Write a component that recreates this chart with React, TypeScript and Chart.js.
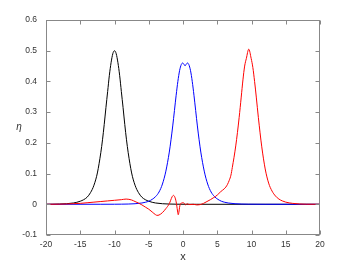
import { useEffect, useRef } from "react";
import { Chart, registerables } from "chart.js";
Chart.register(...registerables);

const blackX = [-20, -19, -18, -17, -16, -15.5, -15, -14.5, -14, -13.5, -13, -12.5, -12, -11.75, -11.5, -11.25, -11, -10.75, -10.5, -10.25, -10, -9.75, -9.5, -9.25, -9, -8.75, -8.5, -8.25, -8, -7.5, -7, -6.5, -6, -5.5, -5, -4.5, -4, -3, -2, -1, 0, 2, 20];
const blackY = [0, 0.0003, 0.0008, 0.0018, 0.0042, 0.0065, 0.01, 0.015, 0.023, 0.038, 0.062, 0.102, 0.168, 0.21, 0.26, 0.315, 0.367, 0.42, 0.461, 0.49, 0.5, 0.49, 0.461, 0.42, 0.367, 0.315, 0.26, 0.21, 0.168, 0.102, 0.062, 0.038, 0.023, 0.015, 0.01, 0.0065, 0.0042, 0.0018, 0.0008, 0.0003, 0.0001, 0, 0];

const blueX = [-20, -12, -10, -9, -8, -7, -6, -5.5, -5, -4.5, -4, -3.5, -3, -2.5, -2, -1.75, -1.5, -1.25, -1, -0.75, -0.5, -0.25, -0.05, 0.1, 0.3, 0.5, 0.65, 0.85, 1.1, 1.35, 1.6, 1.85, 2.1, 2.35, 2.6, 3.1, 3.6, 4.1, 4.6, 5.1, 5.6, 6.1, 6.6, 7.6, 8.6, 9.6, 12, 20];
const blueY = [0, 0.0001, 0.0002, 0.0004, 0.0008, 0.0018, 0.0042, 0.0065, 0.01, 0.016, 0.025, 0.04, 0.066, 0.108, 0.17, 0.21, 0.255, 0.305, 0.355, 0.4, 0.435, 0.455, 0.46, 0.457, 0.451, 0.457, 0.46, 0.455, 0.435, 0.4, 0.355, 0.305, 0.255, 0.21, 0.17, 0.108, 0.066, 0.04, 0.025, 0.016, 0.01, 0.0065, 0.0042, 0.0018, 0.0008, 0.0004, 0.0001, 0];

const redX = [-20, -18, -17, -16, -15, -14, -13, -12, -11, -10, -9, -8.3, -7.5, -7, -6.5, -6, -5.5, -5, -4.5, -4, -3.8, -3.5, -3, -2.5, -2, -1.8, -1.6, -1.4, -1.2, -1.0, -0.9, -0.8, -0.7, -0.6, -0.5, -0.4, -0.2, 0, 0.2, 0.4, 0.6, 0.8, 1, 1.5, 2, 2.5, 3, 3.5, 4, 4.5, 5, 5.5, 6, 6.25, 6.5, 6.75, 7, 7.2, 7.7, 8.2, 8.5, 8.75, 9, 9.25, 9.6, 9.95, 10.2, 10.45, 10.7, 11, 11.5, 12, 12.5, 13, 13.5, 14, 14.5, 15, 16, 17, 18, 20];
const redY = [0, 0.0005, 0.001, 0.002, 0.003, 0.005, 0.007, 0.009, 0.011, 0.013, 0.015, 0.017, 0.014, 0.009, 0.004, -0.002, -0.009, -0.016, -0.025, -0.034, -0.036, -0.035, -0.027, -0.014, 0.002, 0.013, 0.024, 0.029, 0.024, 0.008, -0.006, -0.022, -0.034, -0.026, -0.01, 0, 0.004, 0.005, 0.003, -0.002, 0.002, 0, -0.001, 0, -0.002, -0.001, 0.003, 0.009, 0.015, 0.022, 0.03, 0.041, 0.05, 0.056, 0.065, 0.078, 0.095, 0.12, 0.19, 0.283, 0.349, 0.405, 0.45, 0.475, 0.505, 0.475, 0.445, 0.4, 0.349, 0.283, 0.187, 0.115, 0.069, 0.043, 0.027, 0.017, 0.011, 0.007, 0.003, 0.001, 0.0003, 0];

const xTicks = [-20, -15, -10, -5, 0, 5, 10, 15, 20];
const yTicks = [-0.1, 0, 0.1, 0.2, 0.3, 0.4, 0.5, 0.6];
const xLabel = "x";
const yLabel = "η";

const FONT = '"Liberation Sans", Arial, sans-serif';

export default function App() {
  const ref = useRef<HTMLCanvasElement>(null);
  useEffect(() => {
    if (!ref.current) return;
    const toPts = (xs: number[], ys: number[]) => xs.map((x, i) => ({ x, y: ys[i] }));
    const framePlugin = {
      id: "frame",
      afterDraw(chart: any) {
        const { ctx, chartArea: a, scales } = chart;
        ctx.save();
        ctx.strokeStyle = "#888";
        ctx.lineWidth = 1;
        const l = Math.round(a.left) + 0.5, t = Math.round(a.top) + 0.5;
        const r = Math.round(a.right) - 0.5, b = Math.round(a.bottom) - 0.5;
        ctx.strokeRect(l, t, r - l, b - t);
        const L = 4;
        ctx.beginPath();
        for (const v of yTicks) {
          const p = Math.round(scales.y.getPixelForValue(v)) + 0.5;
          ctx.moveTo(l, p); ctx.lineTo(l + L, p);
          ctx.moveTo(r, p); ctx.lineTo(r - L, p);
        }
        for (const v of xTicks) {
          const p = Math.round(scales.x.getPixelForValue(v)) + 0.5;
          ctx.moveTo(p, b); ctx.lineTo(p, b - L);
          ctx.moveTo(p, t); ctx.lineTo(p, t + L);
        }
        ctx.stroke();
        ctx.fillStyle = "#333";
        ctx.textAlign = "center";
        ctx.textBaseline = "middle";
        ctx.font = "11px " + FONT;
        ctx.fillText(xLabel, (a.left + a.right) / 2, 257);
        ctx.font = "italic 10px " + FONT;
        ctx.fillText(yLabel, 19, (a.top + a.bottom) / 2);
        ctx.restore();
      },
    };
    const ds = (xs: number[], ys: number[], color: string) => ({
      data: toPts(xs, ys),
      borderColor: color,
      borderWidth: 1,
      pointRadius: 0,
      cubicInterpolationMode: "monotone",
      fill: false,
    });
    const chart = new Chart(ref.current, {
      type: "line",
      data: {
        datasets: [
          ds(redX, redY, "#ff0000"),
          ds(blueX, blueY, "#0000ff"),
          ds(blackX, blackY, "#000000"),
        ],
      },
      options: {
        responsive: false,
        animation: false,
        devicePixelRatio: 1,
        layout: { padding: { left: 0, right: 33, top: 20, bottom: 0 } },
        plugins: { legend: { display: false }, tooltip: { enabled: false } },
        scales: {
          x: {
            type: "linear",
            min: -20,
            max: 20,
            afterBuildTicks: (s: any) => { s.ticks = xTicks.map((v) => ({ value: v })); },
            afterFit: (s: any) => { s.height = 30; },
            grid: { display: false, drawTicks: false },
            border: { display: false },
            ticks: { font: { size: 8.5, family: FONT }, color: "#333", padding: 5, maxRotation: 0, autoSkip: false, callback: (v: any) => String(v) },
          },
          y: {
            type: "linear",
            min: -0.1,
            max: 0.6,
            afterBuildTicks: (s: any) => { s.ticks = yTicks.map((v) => ({ value: v })); },
            afterFit: (s: any) => { s.width = 46; },
            grid: { display: false, drawTicks: false },
            border: { display: false },
            ticks: { font: { size: 8.5, family: FONT }, color: "#333", padding: 9, autoSkip: false, callback: (v: any) => String(Math.round(v * 10) / 10) },
          },
        },
      },
      plugins: [framePlugin],
    } as any);
    return () => chart.destroy();
  }, []);
  return (
    <div style={{ position: "fixed", left: 0, top: 0, width: 353, height: 265, background: "#fff" }}>
      <canvas ref={ref} width={353} height={265} style={{ width: 353, height: 265, display: "block" }} />
    </div>
  );
}
